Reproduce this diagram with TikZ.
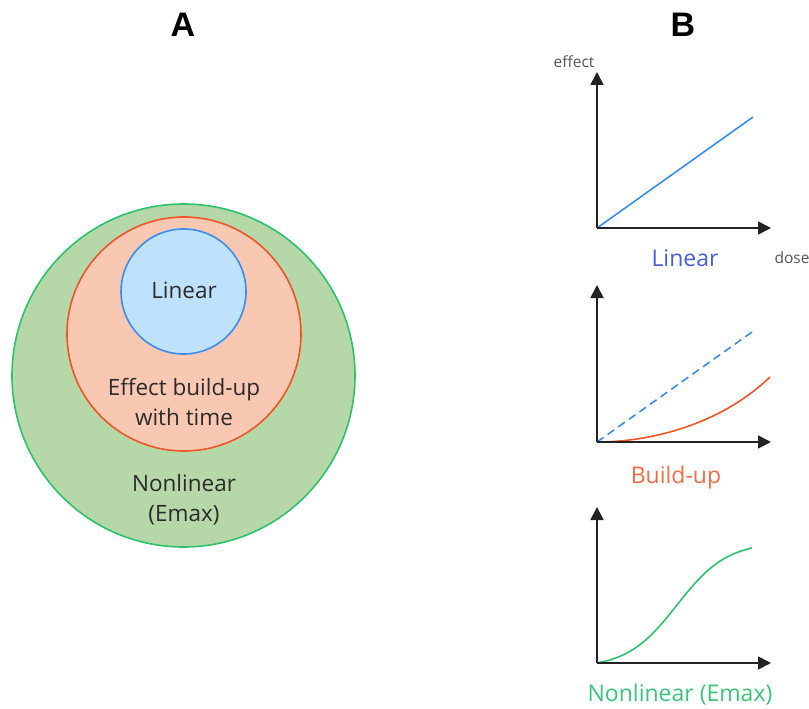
\documentclass[tikz,border=0pt]{standalone}
\usepackage{fontspec}
\setmainfont{Open Sans}
\newfontfamily\headfont{Liberation Sans}
\usetikzlibrary{arrows.meta}

\definecolor{greenfill}{HTML}{B6D7A8}
\definecolor{greenline}{HTML}{2DC26B}
\definecolor{peachfill}{HTML}{F9C8B3}
\definecolor{peachline}{HTML}{EF5528}
\definecolor{bluefill}{HTML}{BFE2FC}
\definecolor{blueline}{HTML}{3A8DEF}
\definecolor{linearlbl}{HTML}{4A5FD6}
\definecolor{buildlbl}{HTML}{F26D45}
\definecolor{emaxlbl}{HTML}{3BC47A}
\definecolor{axisgray}{HTML}{222222}
\definecolor{textdark}{HTML}{2B2B2B}

\tikzset{
  head/.style={font=\headfont\bfseries\fontsize{34}{34}\selectfont, text=black},
  circtext/.style={font=\fontsize{22.5}{30.5}\selectfont, text=textdark, align=center},
  axislbl/.style={font=\fontsize{15.5}{15.5}\selectfont, text=textdark!80},
  chartlbl/.style={font=\fontsize{23}{23}\selectfont},
  axisline/.style={draw=axisgray, line width=1.8pt, -{Triangle[length=13pt,width=13pt]}},
  curve/.style={line width=1.6pt},
}

\begin{document}
\begin{tikzpicture}[x=1pt,y=-1pt]
\useasboundingbox (0,0) rectangle (809,709);

% panel headings
\node[head] (hA) at (183,25) {A};
\node[head] (hB) at (683,25) {B};

% nested sets
\node[circle, draw=greenline, fill=greenfill, line width=1.6pt, minimum size=343pt, inner sep=0pt] (outer) at (183.5,375.5) {};
\node[circle, draw=peachline, fill=peachfill, line width=1.6pt, minimum size=234pt, inner sep=0pt] (mid) at (184,334) {};
\node[circle, draw=blueline, fill=bluefill, line width=1.6pt, minimum size=125pt, inner sep=0pt] (inner) at (183.5,291.5) {};

\node[circtext] (tlin) at (184,290) {Linear};
\node[circtext] (tbuild) at (184,402) {Effect build-up\\with time};
\node[circtext] (tnonlin) at (184,499.5) {Nonlinear\\(Emax)};

% chart 1: linear
\coordinate (o1) at (597,228);
\coordinate (y1) at (597,72);
\coordinate (x1) at (771,228);
\coordinate (e1) at (753,117);
\draw[blueline, curve] (o1) -- (e1);
\draw[axisline] (o1) -- (y1);
\draw[axisline] (o1) -- (x1);
\node[axislbl] (leff) at (574,62) {effect};
\node[axislbl] (ldose) at (792,258) {dose};
\node[chartlbl, text=linearlbl] (l1) at (685,258) {Linear};

% chart 2: build-up
\coordinate (o2) at (597,442);
\coordinate (y2) at (597,285);
\coordinate (x2) at (771,442);
\coordinate (e2) at (752,332);
\coordinate (f2) at (770,377);
\draw[blueline, curve, dash pattern=on 8pt off 5pt] (o2) -- (e2);
\draw[peachline, curve] (o2) .. controls (650,442) and (720,425) .. (f2);
\draw[axisline] (o2) -- (y2);
\draw[axisline] (o2) -- (x2);
\node[chartlbl, text=buildlbl] (l2) at (676,478) {Build-up};

% chart 3: nonlinear (Emax), a normalised logistic curve
\coordinate (o3) at (597,663);
\coordinate (y3) at (597,507);
\coordinate (x3) at (771,663);
\draw[greenline, curve] plot[domain=597:752, samples=80, smooth]
  (\x, {663 - 115*((1/(1+exp(-(\x-677)/25))) - 0.0392)/(0.9526-0.0392)});
\draw[axisline] (o3) -- (y3);
\draw[axisline] (o3) -- (x3);
\node[chartlbl, text=emaxlbl] (l3) at (680,695) {Nonlinear (Emax)};
\end{tikzpicture}
\end{document}
